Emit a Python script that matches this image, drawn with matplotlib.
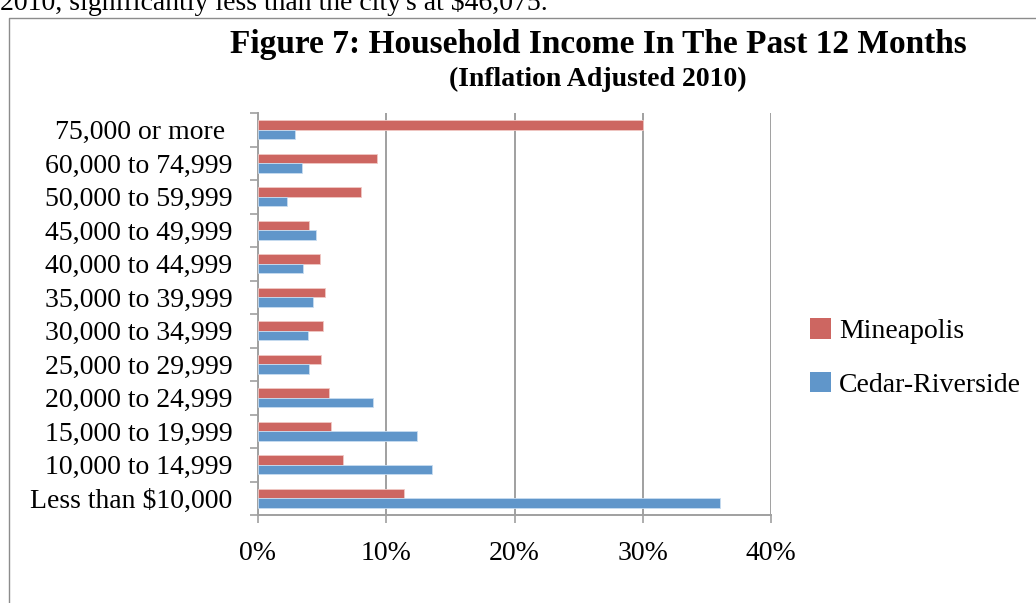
import matplotlib
matplotlib.use("Agg")
import matplotlib.pyplot as plt
import numpy as np
from matplotlib.lines import Line2D
from matplotlib.patches import Patch

categories = ["Less than $10,000", "10,000 to 14,999", "15,000 to 19,999",
              "20,000 to 24,999", "25,000 to 29,999", "30,000 to 34,999",
              "35,000 to 39,999", "40,000 to 44,999", "45,000 to 49,999",
              "50,000 to 59,999", "60,000 to 74,999", "75,000 or more "]
mineapolis = [11.4, 6.6, 5.7, 5.5, 4.9, 5.1, 5.2, 4.8, 4.0, 8.0, 9.3, 30.0]
cedar_riverside = [36.0, 13.6, 12.4, 9.0, 4.0, 3.9, 4.3, 3.5, 4.5, 2.3, 3.4, 2.9]
xticks = [0, 10, 20, 30, 40]
xtick_labels = ["0%", "10%", "20%", "30%", "40%"]

RED = "#CD6661"
BLUE = "#6096CA"
GRID = "#A0A0A0"
FONT = "Liberation Serif"

fig = plt.figure(figsize=(10.36, 6.03), dpi=100)
W, H = 1036, 603
ax = fig.add_axes([258 / W, 1 - 515 / H, (771 - 258) / W, (515 - 113) / H])

y = np.arange(len(categories))
h = 0.28
ax.barh(y + h / 2, mineapolis, height=h, color=RED, edgecolor="#F0C8C4", linewidth=0.6, zorder=3)
ax.barh(y - h / 2, cedar_riverside, height=h, color=BLUE, edgecolor="#C8DCF0", linewidth=0.6, zorder=3)

ax.set_xlim(0, 40)
ax.set_ylim(-0.5, len(categories) - 0.5)
ax.set_xticks(xticks)
ax.set_xticklabels(xtick_labels, fontfamily=FONT, fontsize=20)
ax.set_yticks(y)
ax.set_yticklabels(categories, fontfamily=FONT, fontsize=20)
ax.set_yticks(np.arange(-0.5, len(categories), 1.0), minor=True)

ax.tick_params(axis="y", which="major", length=0, pad=18.5)
ax.tick_params(axis="y", which="minor", length=5.5, width=1.2, color=GRID, direction="out")
ax.tick_params(axis="x", which="major", length=6, width=1.2, color=GRID, direction="out", pad=13)

ax.grid(axis="x", color=GRID, linewidth=1.4, zorder=0)
for side in ["top", "right"]:
    ax.spines[side].set_visible(False)
for side in ["left", "bottom"]:
    ax.spines[side].set_color(GRID)
    ax.spines[side].set_linewidth(1.4)

# Legend
handles = [Patch(facecolor=RED, edgecolor="none"), Patch(facecolor=BLUE, edgecolor="none")]
leg = fig.legend(handles, ["Mineapolis", "Cedar-Riverside"], loc="center left",
                 bbox_to_anchor=(810 / W, 1 - 358 / H), frameon=False,
                 borderpad=0, borderaxespad=0,
                 prop={"family": FONT, "size": 20}, handlelength=0.75, handleheight=0.75,
                 handletextpad=0.3, labelspacing=1.0)

# Titles
fig.text(598 / W, 1 - 45 / H, "Figure 7: Household Income In The Past 12 Months",
         ha="center", va="center", fontfamily=FONT, fontweight="bold", fontsize=24)
fig.text(598 / W, 1 - 79 / H, "(Inflation Adjusted 2010)",
         ha="center", va="center", fontfamily=FONT, fontweight="bold", fontsize=20)

# Text from the page above the chart, cut off by the crop as in the reference
fig.text(0.0, 1 - 10 / H, "2010, significantly less than the city's at $46,075.",
         ha="left", va="baseline", fontfamily=FONT, fontsize=20)

# Frame
fig.add_artist(Line2D([9 / W, 9 / W, 1.0], [0.0, 1 - 18 / H, 1 - 18 / H],
                      transform=fig.transFigure, color="#8C8C8C", linewidth=1.0))

fig.savefig("out.png", dpi=100)
